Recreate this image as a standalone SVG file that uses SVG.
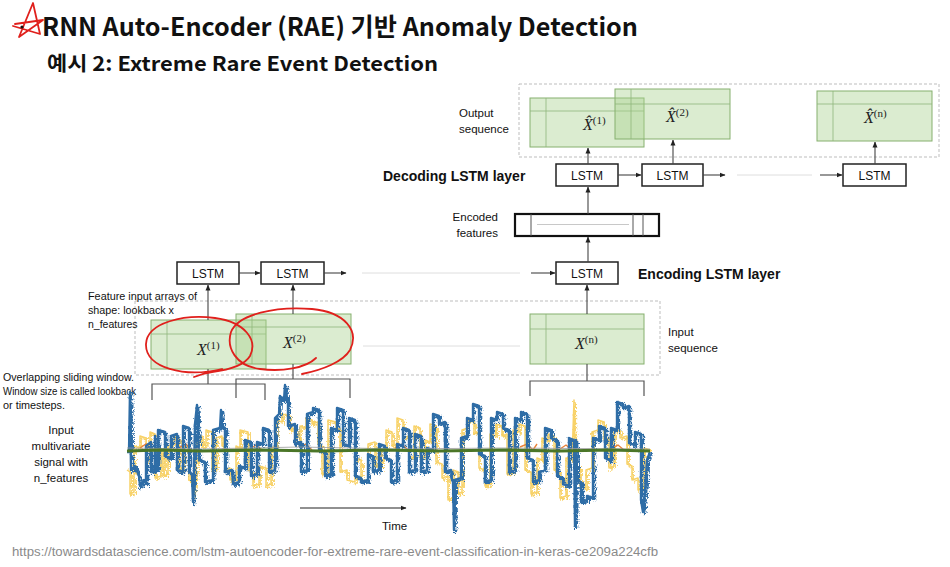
<svg xmlns="http://www.w3.org/2000/svg" width="950" height="567" viewBox="0 0 950 567">
<style>
.t{font-family:"Liberation Sans","Noto Sans CJK KR",sans-serif;fill:#111}
.lbl{font-size:11.5px}
.bold{font-size:14px;font-weight:bold}
.box{fill:#fff;stroke:#222;stroke-width:1.5}
.bt{font-size:12px;text-anchor:middle}
.g{fill:#a9d18e;fill-opacity:0.42;stroke:#86b06e;stroke-width:1}
.gi{stroke:#8fb77a;stroke-width:1;fill:none;opacity:0.8}
.dash{fill:none;stroke:#bdbdbd;stroke-width:1;stroke-dasharray:3 2}
.faint{stroke:#dedede;stroke-width:1;fill:none}
.c{stroke:#444;stroke-width:1.1;fill:none;marker-end:url(#ah)}
.br{stroke:#555;stroke-width:1.2;fill:none}
.m{font-family:"Liberation Serif","DejaVu Serif",serif;font-style:italic;font-size:16px;fill:#222}
.sup{font-size:11px;font-style:normal}
.red{stroke:#e0201c;stroke-width:1.8;fill:none;stroke-linecap:round;stroke-linejoin:round}
.sm{font-size:10.5px}
.yl{fill:none;stroke:#f8d268;stroke-linejoin:round}
.bl{fill:none;stroke:#2f6da6;stroke-linejoin:round}
</style>
<defs>
<marker id="ah" viewBox="0 0 6 6" refX="5.5" refY="3" markerWidth="6" markerHeight="6" orient="auto" markerUnits="userSpaceOnUse">
<path d="M0,0.5 L6,3 L0,5.5 Z" fill="#222"/>
</marker>
<filter id="noise" x="120" y="370" width="540" height="170" filterUnits="userSpaceOnUse">
<feTurbulence type="turbulence" baseFrequency="0.6 0.25" numOctaves="2" seed="3" result="n"/>
<feDisplacementMap in="SourceGraphic" in2="n" scale="6" xChannelSelector="R" yChannelSelector="G"/>
</filter>
<path id="ysig" d="M127,470 L130,472 L130,494 L134,492 L134,446 L140,448 L140,436 L146,438 L146,462 L150,460 L150,432 L155,434 L155,478 L161,476 L161,450 L164,452 L164,476 L168,474 L168,446 L174,444 L174,436 L179,438 L179,470 L184,468 L184,446 L189,448 L189,480 L193,482 L194,496 L196,470 L196,438 L202,436 L202,446 L206,444 L206,430 L212,432 L212,470 L216,468 L216,438 L222,436 L222,446 L225,448 L225,470 L230,468 L230,480 L236,478 L236,446 L240,448 L240,430 L248,432 L248,470 L253,472 L253,486 L259,484 L259,466 L266,468 L266,486 L271,484 L271,448 L276,446 L276,420 L282,422 L282,414 L290,416 L290,430 L296,428 L296,444 L300,442 L300,426 L306,428 L306,418 L312,420 L312,424 L318,422 L318,444 L322,446 L322,474 L328,476 L328,420 L336,422 L336,430 L340,428 L340,472 L347,470 L347,480 L355,482 L355,458 L361,460 L361,482 L368,480 L368,444 L375,442 L375,466 L381,468 L381,452 L386,450 L386,430 L392,432 L392,446 L397,444 L397,418 L403,420 L403,438 L409,436 L409,456 L414,458 L414,426 L420,428 L420,458 L425,456 L425,440 L430,442 L430,424 L436,426 L436,462 L442,464 L442,478 L448,476 L448,500 L453,498 L453,470 L458,472 L458,494 L462,492 L462,430 L468,428 L468,420 L474,422 L474,434 L479,432 L479,468 L485,470 L485,486 L490,484 L490,434 L496,436 L496,424 L502,426 L502,436 L507,434 L507,474 L513,472 L513,430 L519,432 L519,424 L525,426 L525,470 L531,472 L531,494 L537,492 L537,458 L542,460 L542,438 L548,440 L548,434 L554,436 L554,470 L560,472 L560,498 L566,496 L566,458 L572,460 L574,400 L575,466 L580,468 L580,486 L586,488 L586,470 L592,468 L592,432 L598,430 L598,420 L604,422 L604,440 L609,438 L609,468 L614,466 L614,432 L620,430 L620,438 L627,436 L627,464 L632,466 L632,480 L638,478 L638,490 L644,488 L644,448 L650,450"/>
<path id="bsig" d="M127,452 L129,452 L130,392 L131,470 L135,466 L139,476 L140,486 L144,480 L146,484 L146,446 L151,442 L151,472 L155,468 L155,436 L156,470 L158,466 L158,430 L165,432 L165,456 L171,458 L171,436 L177,434 L177,470 L183,472 L183,426 L189,428 L189,472 L192,474 L193,502 L194,470 L195,424 L197,405 L198,426 L199,460 L205,462 L205,482 L213,480 L213,430 L220,428 L221,410 L222,426 L225,428 L225,472 L232,470 L233,484 L239,482 L239,466 L245,468 L245,440 L251,442 L251,476 L257,474 L257,442 L263,444 L263,428 L269,430 L269,472 L275,470 L275,418 L279,414 L280,396 L284,400 L285,385 L286,400 L288,402 L288,426 L295,424 L295,444 L301,442 L301,472 L307,470 L307,414 L313,412 L313,408 L319,410 L319,450 L325,452 L325,476 L331,474 L331,428 L337,430 L337,408 L343,410 L343,444 L349,446 L349,418 L355,420 L355,476 L361,478 L361,482 L368,480 L368,454 L373,456 L373,472 L379,470 L379,444 L385,446 L385,458 L391,460 L391,482 L397,480 L397,444 L403,446 L403,428 L409,430 L409,472 L415,470 L415,434 L421,436 L421,472 L427,470 L427,448 L433,450 L433,414 L439,416 L439,424 L445,422 L445,472 L451,470 L452,480 L453,482 L454,530 L455,480 L461,478 L461,438 L467,436 L467,418 L473,420 L473,404 L479,406 L479,454 L485,456 L485,482 L491,480 L491,418 L497,420 L497,412 L503,414 L503,428 L509,430 L509,472 L515,470 L515,418 L521,420 L521,412 L527,414 L527,458 L533,460 L533,482 L539,480 L539,472 L545,470 L545,428 L551,430 L551,438 L557,440 L557,476 L563,478 L563,484 L569,486 L569,438 L574,440 L575,526 L576,440 L577,480 L581,482 L581,502 L587,500 L587,496 L593,498 L593,438 L599,440 L599,426 L605,428 L605,458 L611,460 L611,428 L617,430 L617,402 L623,404 L623,408 L629,406 L629,443 L635,445 L635,432 L641,434 L641,500 L643,512 L645,492 L647,460 L650,452"/>
</defs>
<rect width="950" height="567" fill="#fff"/>

<g id="title">
<text class="t" x="42" y="36" style="font-family:'Noto Sans CJK KR','Liberation Sans',sans-serif;font-size:25px;font-weight:bold" textLength="596" lengthAdjust="spacingAndGlyphs">RNN Auto-Encoder (RAE) 기반 Anomaly Detection</text>
<text class="t" x="47" y="71" style="font-family:'Noto Sans CJK KR','Liberation Sans',sans-serif;font-size:20px;font-weight:bold" textLength="391" lengthAdjust="spacingAndGlyphs">예시 2: Extreme Rare Event Detection</text>
<path class="red" d="M15,24 L43,20 L19,37 L33,3 L40,34 L13,26"/>
<circle cx="22" cy="27" r="1.6" fill="#111"/>
</g>

<g id="output-sequence">
<rect class="dash" x="519" y="84" width="420" height="73"/>
<text class="t lbl" x="459" y="117">Output</text>
<text class="t lbl" x="459" y="133">sequence</text>
</g>
<g id="xhat1">
<rect class="g" x="530" y="98" width="114" height="49"/>
<path class="gi" d="M546,98 V147 M530,111 H644"/>
<text class="m" x="583" y="130">X̂<tspan class="sup" dy="-6">(1)</tspan></text>
</g>
<g id="xhat2">
<rect class="g" x="615" y="89" width="115" height="50"/>
<path class="gi" d="M631,89 V139 M615,104 H730"/>
<text class="m" x="666" y="122">X̂<tspan class="sup" dy="-6">(2)</tspan></text>
</g>
<g id="xhatn">
<rect class="g" x="817" y="91" width="115" height="50"/>
<path class="gi" d="M833,91 V141 M817,104 H932"/>
<text class="m" x="864" y="123">X̂<tspan class="sup" dy="-6">(n)</tspan></text>
</g>

<g id="decoding-layer">
<text class="t bold" x="383" y="181">Decoding LSTM layer</text>
</g>
<g id="dec-lstm1"><rect class="box" x="556" y="164" width="62" height="22"/><text class="t bt" x="587" y="179.5">LSTM</text></g>
<g id="dec-lstm2"><rect class="box" x="642" y="164" width="61" height="22"/><text class="t bt" x="672.5" y="179.5">LSTM</text></g>
<g id="dec-lstm3"><rect class="box" x="843" y="164" width="63" height="22"/><text class="t bt" x="874.5" y="179.5">LSTM</text></g>

<g id="encoded-features">
<text class="t lbl" x="498" y="221" text-anchor="end">Encoded</text>
<text class="t lbl" x="498" y="237" text-anchor="end">features</text>
<rect x="515" y="214" width="144" height="22" fill="#fff" stroke="#111" stroke-width="2.2"/>
<path d="M531,214 V236 M633,214 V236 M643,214 V236" stroke="#555" stroke-width="1"/>
<path d="M537,224.5 H629" stroke="#c8c8c8" stroke-width="1"/>
</g>

<g id="encoding-layer">
<text class="t bold" x="638" y="279">Encoding LSTM layer</text>
</g>
<g id="enc-lstm1"><rect class="box" x="177" y="262" width="62" height="22"/><text class="t bt" x="208" y="277.5">LSTM</text></g>
<g id="enc-lstm2"><rect class="box" x="261" y="262" width="63" height="22"/><text class="t bt" x="292.5" y="277.5">LSTM</text></g>
<g id="enc-lstm3"><rect class="box" x="556" y="262" width="62" height="22"/><text class="t bt" x="587" y="277.5">LSTM</text></g>

<g id="input-sequence">
<rect class="dash" x="135" y="301" width="525" height="74"/>
<text class="t lbl" x="668" y="336">Input</text>
<text class="t lbl" x="668" y="352">sequence</text>
<text class="t sm" x="88" y="300" textLength="109" lengthAdjust="spacingAndGlyphs">Feature input arrays of</text>
<text class="t sm" x="88" y="314" textLength="86" lengthAdjust="spacingAndGlyphs">shape: lookback x</text>
<text class="t sm" x="88" y="328">n_features</text>
</g>
<g id="x1">
<rect class="g" x="151" y="320" width="115" height="49"/>
<path class="gi" d="M167,320 V369 M151,334 H266"/>
<text class="m" x="197" y="355">X<tspan class="sup" dy="-6">(1)</tspan></text>
</g>
<g id="x2">
<rect class="g" x="236" y="314" width="115" height="50"/>
<path class="gi" d="M252,314 V364 M236,327 H351"/>
<text class="m" x="283" y="348">X<tspan class="sup" dy="-6">(2)</tspan></text>
</g>
<g id="xn">
<rect class="g" x="530" y="314" width="114" height="50"/>
<path class="gi" d="M546,314 V364 M530,329 H644"/>
<text class="m" x="575" y="349">X<tspan class="sup" dy="-6">(n)</tspan></text>
</g>

<g id="connectors">
<path class="c" d="M239,273 H260"/>
<path class="c" d="M324,273 H346"/>
<path class="faint" d="M362,273 H520"/>
<path class="c" d="M531,273 H555"/>
<path class="faint" d="M363,346 H520"/>
<path class="c" d="M208,320 V285" stroke="#666"/>
<path class="c" d="M293,314 V285" stroke="#666"/>
<path class="c" d="M587,314 V285" stroke="#666"/>
<path class="c" d="M588,262 V237" stroke="#666"/>
<path class="c" d="M588,214 V187" stroke="#666"/>
<path class="c" d="M588,164 V148" stroke="#666"/>
<path class="c" d="M673,164 V140" stroke="#666"/>
<path class="c" d="M875,164 V142" stroke="#666"/>
<path class="c" d="M618,175 H641"/>
<path class="c" d="M703,175 H725"/>
<path class="faint" d="M737,175 H812"/>
<path class="c" d="M820,175 H842"/>
<path class="br" d="M208,369 V384 M152,400 V384 H265 V400"/>
<path class="br" d="M293,364 V379 M236,398 V379 H350 V398"/>
<path class="br" d="M587,364 V381 M530,396 V381 H644 V396"/>
<path d="M300,508 H406" stroke="#222" stroke-width="1.2" fill="none" marker-end="url(#ah)"/>
</g>

<g id="sliding-window-label">
<text class="t sm" x="3" y="381" textLength="131" lengthAdjust="spacingAndGlyphs">Overlapping sliding window.</text>
<text class="t sm" x="3" y="395" textLength="133" lengthAdjust="spacingAndGlyphs">Window size is called lookback</text>
<text class="t sm" x="3" y="409" textLength="62" lengthAdjust="spacingAndGlyphs">or timesteps.</text>
</g>

<g id="signal">
<text class="t lbl" x="61" y="434" text-anchor="middle">Input</text>
<text class="t lbl" x="61" y="450" text-anchor="middle">multivariate</text>
<text class="t lbl" x="61" y="466" text-anchor="middle">signal with</text>
<text class="t lbl" x="61" y="482" text-anchor="middle">n_features</text>
<use href="#ysig" class="yl" stroke-width="1.5"/>
<use href="#ysig" class="yl" stroke-width="1.8" filter="url(#noise)"/>
<path fill="none" stroke="#e9823a" stroke-width="1.4" d="M140,448 L146,444 L152,450 M180,447 L186,444 L192,451 M250,449 L256,445 L262,450 M300,447 L306,444 L312,450 M395,448 L402,444 L408,450 M520,447 L527,444 L533,450 L537,444 M560,449 L566,445 L572,450 M612,448 L618,445 L624,450"/>
<use href="#bsig" class="bl" stroke-width="2.4"/>
<use href="#bsig" class="bl" stroke-width="2.6" filter="url(#noise)"/>
<path fill="none" stroke="#999" stroke-width="0.8" d="M127,448 L200,449 L300,447 L400,449 L500,448 L650,449"/>
<path fill="none" stroke="#4b7628" stroke-width="3.2" d="M127,451 L160,450 L200,451 L260,450 L320,451 L380,450 L440,451 L500,450 L560,451 L610,450 L650,451"/>
<text class="t lbl" x="382" y="530">Time</text>
</g>

<g id="annotations">
<path class="red" d="M222,369 C185,378 145,368 146,344 C147,322 185,314 215,318 C245,322 258,340 250,356 C244,366 228,370 212,372 C205,373 199,375 194,377"/>
<path class="red" d="M316,358 C306,368 282,372 260,369 C236,366 226,348 231,332 C238,314 276,306 312,309 C344,312 360,330 350,350 C343,362 322,370 302,374"/>
</g>

<g id="source">
<text class="t" x="12" y="556" style="font-size:12.5px;fill:#8a8a8a" textLength="646" lengthAdjust="spacingAndGlyphs">https://towardsdatascience.com/lstm-autoencoder-for-extreme-rare-event-classification-in-keras-ce209a224cfb</text>
</g>
</svg>
